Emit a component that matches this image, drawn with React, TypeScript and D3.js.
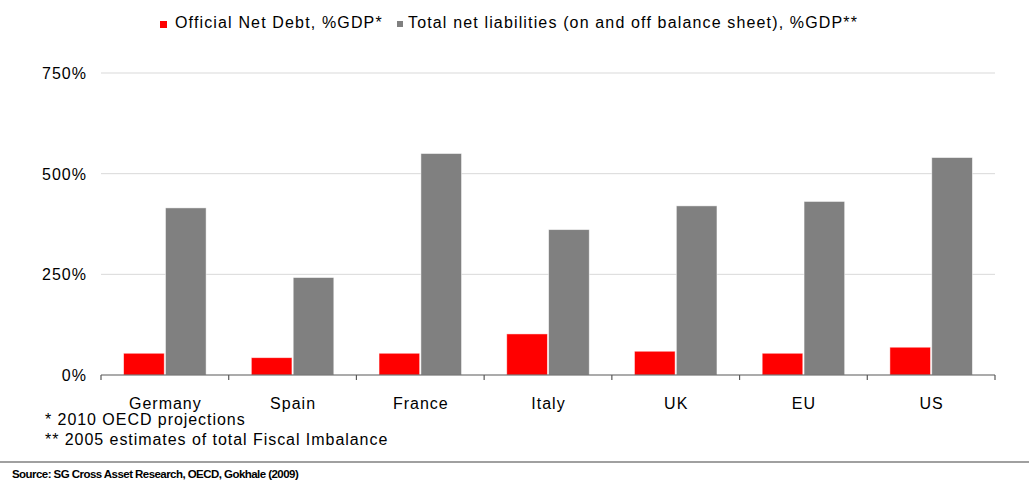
import React from "react";
import * as d3 from "d3";

const categories = ["Germany", "Spain", "France", "Italy", "UK", "EU", "US"];
const officialNetDebt = [54, 43, 54, 102, 59, 54, 69];
const totalNetLiabilities = [415, 242, 550, 361, 420, 431, 540];
const yTicks = [0, 250, 500, 750];
const seriesNames = ["Official Net Debt, %GDP*", "Total net liabilities (on and off balance sheet), %GDP**"];
const seriesColors = ["#ff0000", "#808080"];
const footnotes = ["* 2010 OECD projections", "** 2005 estimates of total Fiscal Imbalance"];
const sourceText = "Source: SG Cross Asset Research, OECD, Gokhale (2009)";

const W = 1032;
const H = 483;
const left = 101;
const right = 995;
const top = 73;
const bottom = 375;
const font = "'Liberation Sans', Arial, sans-serif";

export default function App() {
  const x = d3.scaleBand<string>().domain(categories).range([left, right]).paddingInner(0).paddingOuter(0);
  const y = d3.scaleLinear().domain([0, 750]).range([bottom, top]);
  const bw = x.bandwidth();
  const inner = d3.scaleBand<string>().domain(["a", "b"]).range([0, bw]).paddingInner(0.03).paddingOuter(0.54);
  const series = [officialNetDebt, totalNetLiabilities];

  return (
    <svg width={W} height={H} style={{ position: "absolute", left: 0, top: 0, background: "#fff" }} fontFamily={font}>
      {yTicks.map((t) => (
        <g key={t}>
          {t > 0 && <line x1={left} x2={right} y1={y(t)} y2={y(t)} stroke="#d9d9d9" strokeWidth={1} />}
          <text x={87} y={y(t) + 6} textAnchor="end" fontSize={16} letterSpacing={1} fill="#000">{t}%</text>
        </g>
      ))}
      {categories.map((c, i) =>
        series.map((s, k) => (
          <rect
            key={c + k}
            x={x(c)! + inner(k === 0 ? "a" : "b")!}
            y={y(s[i])}
            width={inner.bandwidth()}
            height={bottom - y(s[i])}
            fill={seriesColors[k]}
            stroke="#ffffff"
            strokeOpacity={0.6}
            strokeWidth={0.8}
          />
        ))
      )}
      <line x1={left} x2={right} y1={bottom} y2={bottom} stroke="#595959" strokeWidth={1.2} />
      {[...categories.map((c) => x(c)!), right].map((xx, i) => (
        <line key={i} x1={xx} x2={xx} y1={bottom} y2={bottom + 5} stroke="#595959" strokeWidth={1.2} />
      ))}
      {categories.map((c) => (
        <text key={c} x={x(c)! + bw / 2 + 0.5} y={409} textAnchor="middle" fontSize={16} letterSpacing={1} fill="#000">{c}</text>
      ))}
      <g>
        <rect x={160} y={21} width={7} height={7} fill={seriesColors[0]} />
        <text x={175} y={28} fontSize={16} letterSpacing={1.15} fill="#000">{seriesNames[0]}</text>
        <rect x={397} y={21} width={6} height={6} fill={seriesColors[1]} />
        <text x={408} y={28} fontSize={16} letterSpacing={1.15} fill="#000">{seriesNames[1]}</text>
      </g>
      <text x={45} y={425} fontSize={16} letterSpacing={0.95} fill="#000">{footnotes[0]}</text>
      <text x={45} y={445} fontSize={16} letterSpacing={0.95} fill="#000">{footnotes[1]}</text>
      <line x1={0} x2={1029} y1={462} y2={462} stroke="#808080" strokeWidth={1.5} />
      <text x={12} y={478} fontSize={11.5} letterSpacing={-0.55} fontWeight="bold" fill="#000">{sourceText}</text>
    </svg>
  );
}
